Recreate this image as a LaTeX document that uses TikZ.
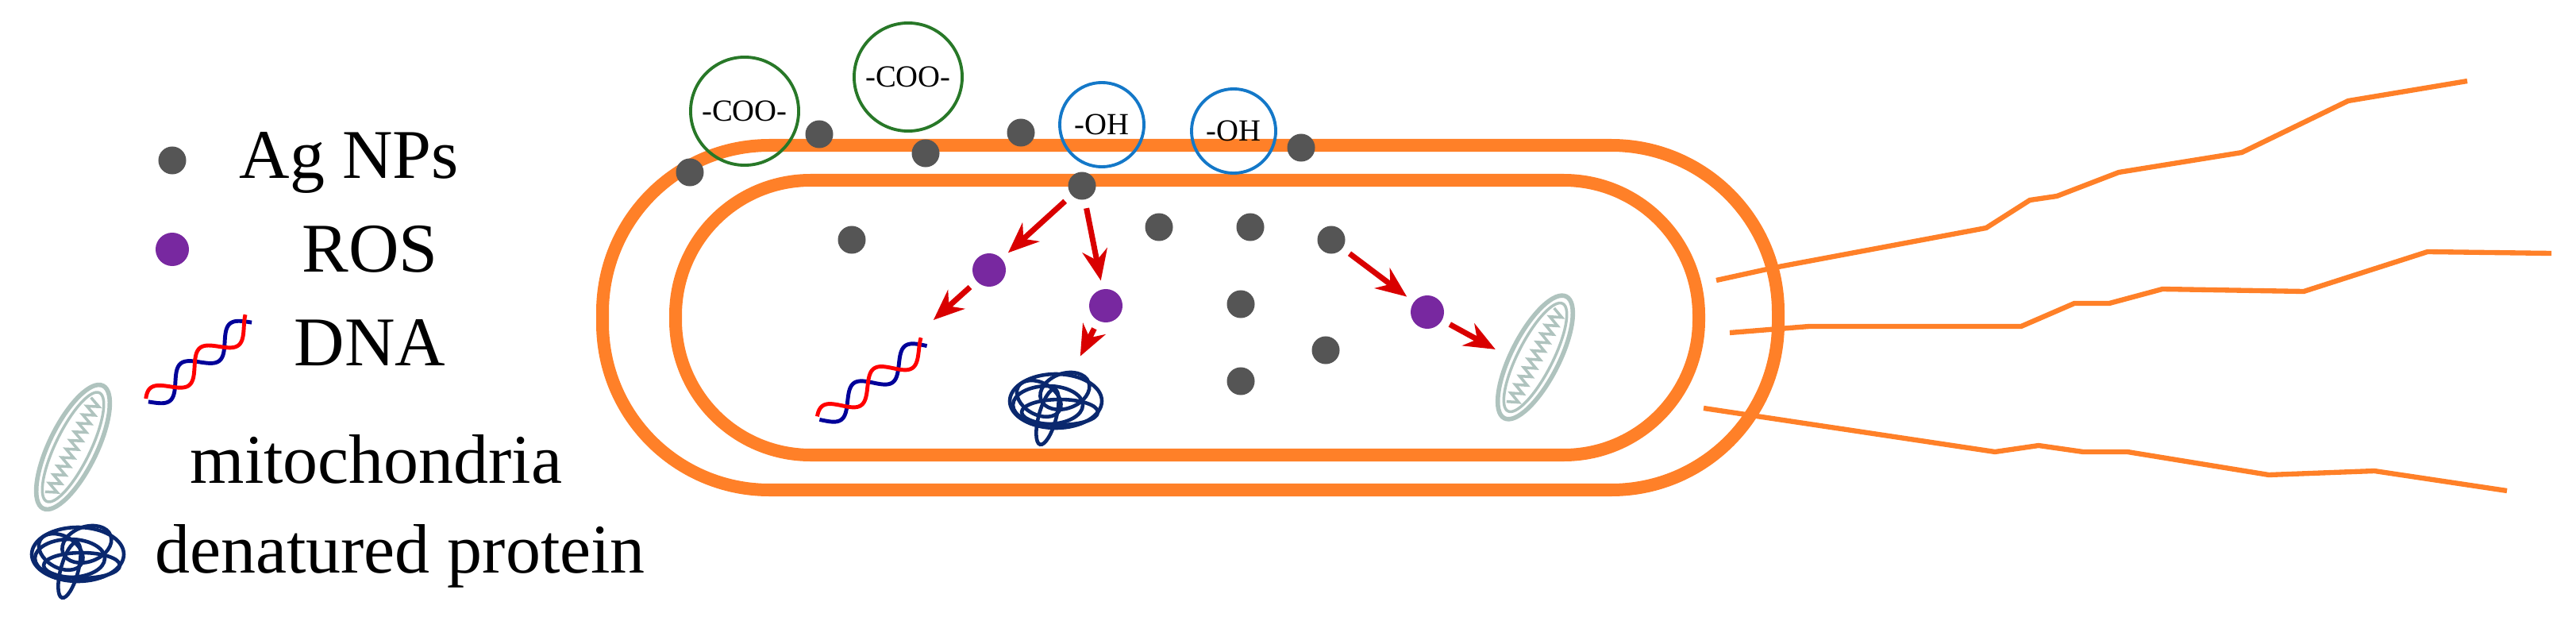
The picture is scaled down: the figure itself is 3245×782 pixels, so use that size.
\documentclass[tikz,border=0pt]{standalone}
\usepackage{fontspec}
\setmainfont{Liberation Serif}
\usepackage{xcolor}
\usetikzlibrary{arrows.meta}
\definecolor{memb}{RGB}{255,128,40}
\definecolor{npgrey}{RGB}{85,85,85}
\definecolor{rospurple}{RGB}{120,40,160}
\definecolor{coogreen}{RGB}{40,120,40}
\definecolor{ohblue}{RGB}{20,120,200}
\definecolor{protblue}{RGB}{10,40,110}
\definecolor{mitogrey}{RGB}{175,195,190}
\newcommand\dnaat[3]{% position, angle, name
  \begin{scope}[shift={#1},rotate=#2]
    \coordinate (#3) at (0,0);
    \draw[blue!60!black,line width=1.4pt] plot[domain=-82:82,samples=90] (\x,{14*sin(4.5*\x)});
    \draw[red,line width=1.4pt] plot[domain=-82:82,samples=90] (\x,{-14*sin(4.5*\x+40)});
  \end{scope}}
\newcommand\protat[2]{% position, name
  \begin{scope}[shift={#1},protblue,line width=1.3pt]
    \coordinate (#2) at (0,0);
    \draw (0,0) ellipse (58 and 34);
    \draw (-10,5) ellipse (44 and 24);
    \draw[rotate=20] (15,-8) ellipse (32 and 22);
    \draw[rotate=-30] (-20,8) ellipse (30 and 20);
    \draw[rotate=75] (-22,-5) ellipse (36 and 11);
    \draw (5,14) ellipse (48 and 16);
  \end{scope}}
\newcommand\mitoat[3]{% position, angle, name
  \begin{scope}[shift={#1},rotate=#2,mitogrey,line width=1pt]
    \coordinate (#3) at (0,0);
    \draw[line width=1.6pt] (0,0) ellipse (86 and 30);
    \draw (0,0) ellipse (76 and 22);
    \draw plot[domain=-66:66,samples=23] (\x,{(mod(round(\x/6),2)==0)*14-7});
  \end{scope}}
\begin{document}
\begin{tikzpicture}[x=0.01cm,y=-0.01cm,
    agnp/.style={circle,fill=npgrey,minimum size=0.35cm,inner sep=0pt},
    ros/.style={circle,fill=rospurple,minimum size=0.42cm,inner sep=0pt},
    coo/.style={circle,draw=coogreen,line width=1.1pt,minimum size=1.36cm,inner sep=0pt,font=\fontsize{11}{11}\selectfont},
    oh/.style={circle,draw=ohblue,line width=1.1pt,minimum size=1.06cm,inner sep=0pt,font=\fontsize{11}{11}\selectfont},
    legend/.style={font=\fontsize{25}{28}\selectfont},
    arr/.style={red!85!black,line width=2pt,-{Stealth[length=11pt,width=9pt]},shorten <=3pt,shorten >=3pt},
    flag/.style={memb,line width=1.8pt}]
\useasboundingbox (0,0) rectangle (3245,782);
% membranes
\draw[memb,line width=0.16cm,rounded corners=2.1cm] (759,183) rectangle (2240,617);
\draw[memb,line width=0.16cm,rounded corners=1.7cm] (851,227) rectangle (2140,573);
% flagella
\draw[flag] (2162,353) -- (2235,337) -- (2502,287) -- (2557,252) -- (2591,247) -- (2669,217) -- (2824,192) -- (2958,127) -- (3108,102);
\draw[flag] (2179,419) -- (2279,411) -- (2546,411) -- (2613,382) -- (2657,382) -- (2724,364) -- (2902,367) -- (3058,317) -- (3214,319);
\draw[flag] (2146,514) -- (2513,569) -- (2568,561) -- (2624,569) -- (2680,569) -- (2858,598) -- (2991,593) -- (3158,618);
% surface groups
\node[coo] (coo1) at (938,140) {-COO-};
\node[coo] (coo2) at (1144,97) {-COO-};
\node[oh] (oh1) at (1388,157) {-OH};
\node[oh] (oh2) at (1554,165) {-OH};
% Ag NPs
\node[agnp] (ag1) at (869,217) {};
\node[agnp] (ag2) at (1032,169) {};
\node[agnp] (ag3) at (1166,193) {};
\node[agnp] (ag4) at (1286,167) {};
\node[agnp] (ag5) at (1363,234) {};
\node[agnp] (ag6) at (1639,186) {};
\node[agnp] (ag7) at (1073,302) {};
\node[agnp] (ag8) at (1460,286) {};
\node[agnp] (ag9) at (1575,286) {};
\node[agnp] (ag10) at (1677,302) {};
\node[agnp] (ag11) at (1563,383) {};
\node[agnp] (ag12) at (1670,441) {};
\node[agnp] (ag13) at (1563,480) {};
% ROS
\node[ros] (ros1) at (1246,340) {};
\node[ros] (ros2) at (1393,385) {};
\node[ros] (ros3) at (1798,393) {};
% targets
\dnaat{(1100,482)}{36}{dna}
\protat{(1330,505)}{prot}
\mitoat{(1934,450)}{63}{mito}
\coordinate (dnatip) at (1168,410);
\coordinate (prottip) at (1356,458);
\coordinate (mitotip) at (1893,445);
\draw[arr] (ag5) -- (ros1);
\draw[arr] (ag5) -- (ros2);
\draw[arr] (ros1) -- (dnatip);
\draw[arr] (ros2) -- (prottip);
\draw[arr] (ag10) -- (ros3);
\draw[arr] (ros3) -- (mitotip);
% legend
\node[agnp] (lag) at (217,202) {};
\node[ros] (lros) at (217,314) {};
\dnaat{(252,456)}{39}{ldna}
\mitoat{(92,563)}{64}{lmito}
\protat{(98,698)}{lprot}
\node[legend] (tag) at (440,205) {Ag NPs};
\node[legend] (tros) at (466,314) {ROS};
\node[legend] (tdna) at (466,432) {DNA};
\node[legend] (tmito) at (474,578) {mitochondria};
\node[legend] (tprot) at (504,700) {denatured protein};
\end{tikzpicture}
\end{document}
